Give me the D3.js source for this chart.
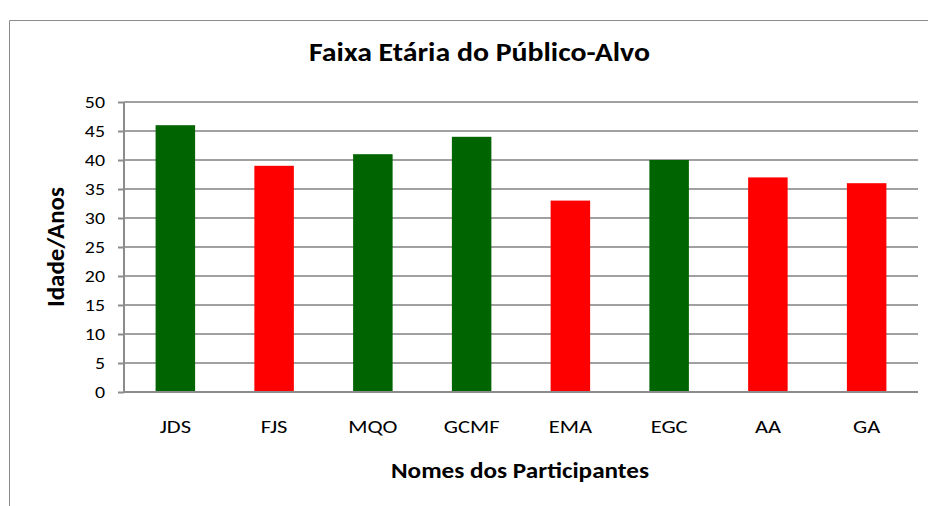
<!DOCTYPE html>
<html>
<head>
<meta charset="utf-8">
<script src="https://cdn.jsdelivr.net/npm/d3@7"></script>
<style>
  body { margin: 0; background: #fff; }
  svg text { font-family: "Carlito", "Open Sans", sans-serif; fill: #000; }
</style>
</head>
<body>
<div id="chart"></div>
<script>
// Set dimensions and margins for the plot
const width = 928;
const height = 506;
const margin = {left: 124, right: 10, top: 102, bottom: 114};
const stretch = 1.17; // the reference text is a bit wider than tall

// Chart data
const names = ["JDS", "FJS", "MQO", "GCMF", "EMA", "EGC", "AA", "GA"];
const ages = [46, 39, 41, 44, 33, 40, 37, 36];
const barColors = ["#006400", "#ff0000", "#006400", "#006400", "#ff0000", "#006400", "#ff0000", "#ff0000"];
const yTicks = [0, 5, 10, 15, 20, 25, 30, 35, 40, 45, 50];

const svg = d3.select("#chart")
  .append("svg")
  .attr("width", width)
  .attr("height", height);

// outer chart border (runs off the right and bottom edges)
svg.append("path")
  .attr("d", `M9.5,${height + 2} V20.5 H${width + 2}`)
  .attr("fill", "none")
  .attr("stroke", "#8c8c8c")
  .attr("stroke-width", 1);

// scales
const xScale = d3.scaleBand()
  .domain(names)
  .range([margin.left, width - margin.right])
  .paddingInner(0.6)
  .paddingOuter(0.32);

const yScale = d3.scaleLinear()
  .domain([0, 50])
  .range([height - margin.bottom, margin.top]);

// gridlines
svg.append("g")
  .selectAll("line")
  .data(yTicks.filter(d => d > 0))
  .join("line")
  .attr("x1", margin.left)
  .attr("x2", width - margin.right)
  .attr("y1", d => yScale(d))
  .attr("y2", d => yScale(d))
  .attr("stroke", "#a0a0a0")
  .attr("stroke-width", 2);

// bars
svg.selectAll(".bar")
  .data(ages)
  .join("rect")
  .attr("class", "bar")
  .attr("x", (d, i) => xScale(names[i]))
  .attr("y", d => yScale(d))
  .attr("width", xScale.bandwidth())
  .attr("height", d => yScale(0) - yScale(d))
  .attr("fill", (d, i) => barColors[i]);

// y axis
const yAxis = svg.append("g")
  .attr("transform", `translate(${margin.left},0)`)
  .call(d3.axisLeft(yScale).tickValues(yTicks).tickSize(6));
yAxis.select(".domain").attr("stroke", "#8c8c8c").attr("stroke-width", 2).attr("d", `M0,${margin.top}V${yScale(0)}`);
yAxis.selectAll(".tick line").attr("stroke", "#8c8c8c").attr("stroke-width", 2);
yAxis.selectAll(".tick text")
  .attr("x", -19 / stretch)
  .attr("transform", `scale(${stretch},1)`)
  .attr("font-size", "17px")
  .attr("font-family", "Carlito, 'Open Sans', sans-serif");

// x axis
const xAxis = svg.append("g")
  .attr("transform", `translate(0,${yScale(0)})`)
  .call(d3.axisBottom(xScale).tickSize(0).tickPadding(28));
xAxis.select(".domain").attr("stroke", "#8c8c8c").attr("stroke-width", 2).attr("d", `M${margin.left},0H${width - margin.right}`);
xAxis.selectAll(".tick text")
  .attr("transform", "scale(1.25,1)")
  .attr("font-size", "18px")
  .attr("font-family", "Carlito, 'Open Sans', sans-serif");

// title
svg.append("text")
  .attr("x", 479.5)
  .attr("y", 61)
  .attr("text-anchor", "middle")
  .attr("font-size", "26px")
  .attr("font-weight", "bold")
  .attr("textLength", 341)
  .attr("lengthAdjust", "spacingAndGlyphs")
  .text("Faixa Etária do Público-Alvo");

// axis titles
svg.append("text")
  .attr("x", 520)
  .attr("y", 478)
  .attr("text-anchor", "middle")
  .attr("font-size", "23px")
  .attr("font-weight", "bold")
  .attr("textLength", 258)
  .attr("lengthAdjust", "spacingAndGlyphs")
  .text("Nomes dos Participantes");

svg.append("text")
  .attr("transform", `translate(64,247) rotate(-90)`)
  .attr("text-anchor", "middle")
  .attr("font-size", "25px")
  .attr("font-weight", "bold")
  .attr("textLength", 120)
  .attr("lengthAdjust", "spacingAndGlyphs")
  .text("Idade/Anos");
</script>
</body>
</html>
